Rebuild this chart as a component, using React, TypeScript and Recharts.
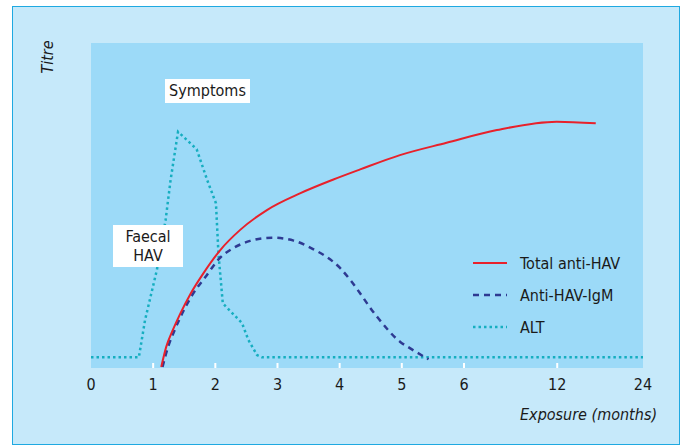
import { CartesianGrid, Line, LineChart, XAxis, YAxis } from 'recharts'

// x positions are in axis units: 0..6 months evenly, then 12 and 24 squeezed in
const tickPos = [0, 1, 2, 3, 4, 5, 6, 7.5, 8.88]
const tickLabels = ['0', '1', '2', '3', '4', '5', '6', '12', '24']

const totalX = [1.13, 1.21, 1.31, 1.44, 1.6, 1.81, 2.08, 2.4, 2.83, 3.37, 3.9, 4.33, 4.97, 5.72, 6.53, 7.49, 8.12]
const totalY = [0.3, 6.5, 11.4, 16.9, 22.8, 29.2, 36.3, 42.5, 48.6, 53.8, 58.0, 61.1, 65.5, 69.3, 73.2, 75.8, 75.3]

const igmX = [1.15, 1.24, 1.34, 1.47, 1.63, 1.84, 2.08, 2.29, 2.56, 2.91, 3.26, 3.58, 3.79, 4.01, 4.17, 4.6, 4.97, 5.13, 5.43]
const igmY = [0.3, 6.5, 11.4, 16.9, 22.5, 28.0, 34.0, 36.9, 39.1, 40.1, 39.2, 36.5, 34.2, 30.7, 27.1, 15.8, 8.1, 6.1, 2.7]

const altX = [0, 0.77, 0.87, 1.06, 1.2, 1.28, 1.4, 1.7, 1.87, 2.01, 2.05, 2.12, 2.43, 2.53, 2.67, 2.75, 8.88]
const altY = [3.3, 3.3, 14.8, 30.2, 45.5, 57.8, 72.7, 67.3, 57.8, 50.7, 35.3, 19.9, 13.8, 8.7, 4.0, 3.3, 3.3]

const zip = (xs: number[], ys: number[]) => xs.map((x, i) => ({ x, y: ys[i] }))
const totalData = zip(totalX, totalY)
const igmData = zip(igmX, igmY)
const altData = zip(altX, altY)

const FONT = "'Liberation Sans Narrow', 'DejaVu Sans Condensed', 'Liberation Sans', sans-serif"
const RED = '#e8212b'
const NAVY = '#2e3a92'
const TEAL = '#16aec0'

const legendItems = [
  { label: 'Total anti-HAV', color: RED, dash: undefined, width: 2 },
  { label: 'Anti-HAV-IgM', color: NAVY, dash: '6 5', width: 2.5 },
  { label: 'ALT', color: TEAL, dash: '2.5 3', width: 2.5 }
]

function AxisTick({ x, y, payload, index }: any) {
  const i = tickPos.indexOf(payload.value)
  const edge = index === 0 || index === tickPos.length - 1
  return (
    <g>
      {!edge && <line x1={x} x2={x} y1={y} y2={y - 5} stroke="#ffffff" strokeWidth={2} />}
      <text x={x} y={y + 22} textAnchor="middle" fontSize={16} fill="#1a1a1a" fontFamily={FONT}>
        {tickLabels[i]}
      </text>
    </g>
  )
}

function LegendBox() {
  return (
    <div style={{ position: 'absolute', left: 472, top: 247, fontFamily: FONT, fontSize: 16, color: '#1a1a1a' }}>
      {legendItems.map((item) => (
        <div key={item.label} style={{ display: 'flex', alignItems: 'center', height: 32 }}>
          <svg width={36} height={10} style={{ marginRight: 12 }}>
            <line x1={1} x2={35} y1={5} y2={5} stroke={item.color} strokeWidth={item.width} strokeDasharray={item.dash} />
          </svg>
          <span>{item.label}</span>
        </div>
      ))}
    </div>
  )
}

const boxStyle: React.CSSProperties = {
  position: 'absolute',
  background: '#ffffff',
  fontFamily: FONT,
  fontSize: 16,
  color: '#1a1a1a',
  textAlign: 'center',
  lineHeight: '19px'
}

export default function App() {
  return (
    <div style={{ position: 'absolute', left: 0, top: 0, width: 681, height: 446, background: '#ffffff' }}>
      <div
        style={{
          position: 'absolute',
          left: 12,
          top: 6,
          width: 668,
          height: 439,
          boxSizing: 'border-box',
          background: '#c6e9fa',
          border: '1.5px solid #1fa9e1'
        }}
      />
      <div style={{ position: 'absolute', left: 0, top: 0 }}>
        <LineChart width={681} height={446} margin={{ top: 43, right: 38, bottom: 48, left: 91 }}>
          <CartesianGrid horizontal={false} vertical={false} fill="#9cdaf8" stroke="none" />
          <XAxis
            type="number"
            dataKey="x"
            domain={[0, 8.88]}
            ticks={tickPos}
            interval={0}
            height={30}
            axisLine={false}
            tickLine={false}
            tickSize={0}
            tickMargin={0}
            tick={<AxisTick />}
            allowDataOverflow
          />
          <YAxis type="number" dataKey="y" domain={[0, 100]} hide allowDataOverflow />
          <Line data={altData} dataKey="y" type="linear" stroke={TEAL} strokeWidth={2.5} strokeDasharray="2.5 3" dot={false} isAnimationActive={false} />
          <Line data={igmData} dataKey="y" type="monotone" stroke={NAVY} strokeWidth={2.5} strokeDasharray="6 5" dot={false} isAnimationActive={false} />
          <Line data={totalData} dataKey="y" type="monotone" stroke={RED} strokeWidth={2} dot={false} isAnimationActive={false} />
        </LineChart>
      </div>
      <LegendBox />
      <div style={{ ...boxStyle, left: 165, top: 79, width: 85, height: 24, lineHeight: '24px' }}>Symptoms</div>
      <div style={{ ...boxStyle, left: 113, top: 225, width: 70, height: 42, paddingTop: 2, boxSizing: 'border-box' }}>
        Faecal
        <br />
        HAV
      </div>
      <div
        style={{
          position: 'absolute',
          left: 47,
          top: 57,
          transform: 'translate(-50%, -50%) rotate(-90deg)',
          fontFamily: FONT,
          fontStyle: 'italic',
          fontSize: 16,
          color: '#1a1a1a'
        }}
      >
        Titre
      </div>
      <div
        style={{
          position: 'absolute',
          right: 24,
          top: 405,
          fontFamily: FONT,
          fontStyle: 'italic',
          fontSize: 16,
          color: '#1a1a1a'
        }}
      >
        Exposure (months)
      </div>
    </div>
  )
}
